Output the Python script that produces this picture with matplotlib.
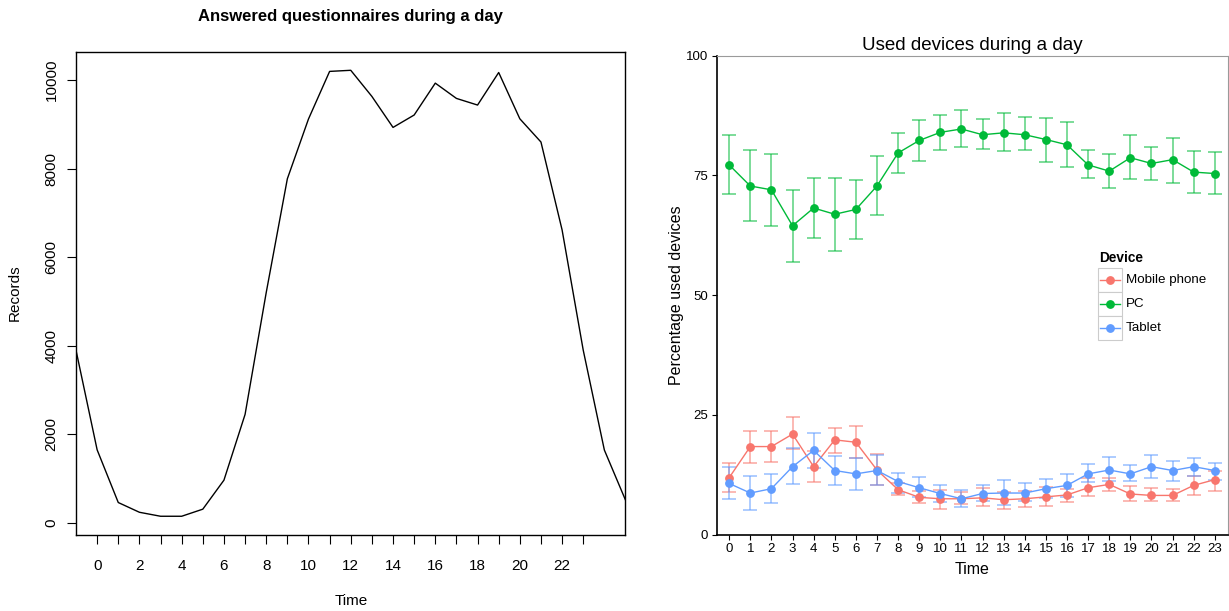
import numpy as np
import matplotlib
matplotlib.use('Agg')
import matplotlib.pyplot as plt
from matplotlib.patches import Rectangle
from matplotlib.lines import Line2D

plt.rcParams['font.family'] = ['Liberation Sans', 'DejaVu Sans']

# left chart: answered questionnaires, one value per hour (wraps around the day)
rec_hours = np.arange(-1, 26)
records = [3900, 1650, 460, 240, 150, 150, 310, 965, 2450, 5200, 7770, 9120,
           10195, 10220, 9630, 8930, 9210, 9930, 9585, 9435, 10170, 9125,
           8600, 6615, 3900, 1645, 515]

# right chart: device share per hour
hours = np.arange(0, 24)
devices = ['Mobile phone', 'PC', 'Tablet']
colors = ['#F8766D', '#00BA38', '#619CFF']

mobile = [11.9, 18.4, 18.4, 21.0, 14.2, 19.8, 19.3, 13.5, 9.4, 7.8, 7.5, 7.5,
          7.7, 7.3, 7.5, 7.9, 8.3, 9.8, 10.5, 8.5, 8.2, 8.2, 10.3, 11.5]
mobile_lo = [8.9, 14.9, 15.2, 17.8, 10.9, 17.1, 16.1, 10.3, 8.2, 6.6, 5.4, 6.5,
             5.9, 5.4, 5.7, 5.9, 6.8, 8.0, 9.2, 7.1, 7.0, 7.0, 8.3, 9.1]
mobile_hi = [14.9, 21.6, 21.6, 24.6, 17.5, 22.3, 22.6, 16.8, 10.8, 9.1, 9.4, 8.9,
             9.7, 8.9, 9.2, 10.0, 9.6, 11.9, 11.9, 10.1, 9.8, 9.6, 12.2, 13.4]

pc = [77.2, 72.8, 72.0, 64.5, 68.2, 66.9, 67.9, 72.8, 79.7, 82.3, 84.0, 84.7,
      83.5, 83.9, 83.5, 82.5, 81.4, 77.2, 75.9, 78.7, 77.5, 78.3, 75.7, 75.4]
pc_lo = [71.1, 65.4, 64.5, 57.0, 62.0, 59.2, 61.8, 66.7, 75.5, 78.1, 80.3, 80.9,
         80.6, 80.1, 80.4, 77.9, 76.8, 74.4, 72.4, 74.2, 74.0, 73.5, 71.3, 71.1]
pc_hi = [83.4, 80.4, 79.5, 71.9, 74.4, 74.4, 74.1, 79.0, 83.8, 86.5, 87.7, 88.7,
         86.7, 88.0, 87.1, 86.9, 86.2, 80.3, 79.4, 83.4, 80.9, 82.9, 80.1, 79.8]

tablet = [10.7, 8.7, 9.6, 14.2, 17.6, 13.4, 12.7, 13.4, 11.1, 9.8, 8.6, 7.5,
          8.6, 8.7, 8.7, 9.6, 10.3, 12.7, 13.5, 12.7, 14.2, 13.4, 14.2, 13.4]
tablet_lo = [7.5, 5.2, 6.6, 10.5, 14.0, 10.3, 9.4, 10.4, 8.7, 7.9, 6.8, 5.7,
             7.1, 6.1, 7.1, 7.6, 7.8, 10.9, 11.2, 11.2, 11.8, 11.2, 12.2, 11.5]
tablet_hi = [14.2, 12.2, 12.6, 18.2, 21.3, 16.5, 16.0, 16.7, 12.9, 12.0, 10.3, 9.4,
             10.3, 11.4, 10.7, 11.6, 12.6, 14.7, 16.2, 14.5, 16.6, 15.4, 16.0, 14.9]

W, H = 1229, 611


def px(x, y):
    return x / W, 1 - y / H


fig = plt.figure(figsize=(W / 100, H / 100), dpi=100)

# ---------- left: base-R style line plot ----------
ax1 = fig.add_axes([76 / W, 1 - 534.5 / H, (625.5 - 76) / W, (534.5 - 52) / H])
ax1.plot(rec_hours, records, color='black', lw=1)
ax1.set_xlim(-1, 25)
ax1.set_ylim(-262, 10633)
ax1.set_xticks(np.arange(0, 24))
ax1.set_xticklabels([str(h) if h % 2 == 0 else '' for h in range(24)])
ax1.set_yticks([0, 2000, 4000, 6000, 8000, 10000])
ax1.tick_params(axis='both', direction='out', length=6.5, width=0.8,
                labelsize=11, color='black')
ax1.tick_params(axis='x', pad=11)
ax1.tick_params(axis='y', pad=6)
for lab in ax1.get_yticklabels():
    lab.set_rotation(90)
    lab.set_va('center')
for s in ax1.spines.values():
    s.set_linewidth(1)
fig.text(*px(350, 17), 'Answered questionnaires during a day', ha='center',
         va='center', fontsize=12, fontweight='bold')
fig.text(*px(351, 601), 'Time', ha='center', va='center', fontsize=11)
fig.text(*px(15, 293), 'Records', ha='center', va='center', fontsize=11,
         rotation=90)

# ---------- right: ggplot style points with error bars ----------
ax2 = fig.add_axes([716.5 / W, 1 - 534.7 / H, (1227.5 - 716.5) / W, (534.7 - 55.7) / H])
series = [(mobile, mobile_lo, mobile_hi), (pc, pc_lo, pc_hi),
          (tablet, tablet_lo, tablet_hi)]
for (vals, lo, hi), c in zip(series, colors):
    vals = np.array(vals)
    err = [vals - np.array(lo), np.array(hi) - vals]
    ax2.errorbar(hours, vals, yerr=err, fmt='none', ecolor=c, alpha=0.65,
                 elinewidth=1.1, capsize=4.7, capthick=1.1, zorder=2)
for (vals, lo, hi), c in zip(series, colors):
    ax2.plot(hours, vals, color=c, lw=1, marker='o', ms=5.3, zorder=3)

ax2.set_xlim(-0.6, 23.6)
ax2.set_ylim(0, 100)
ax2.set_xticks(hours)
ax2.set_yticks([0, 25, 50, 75, 100])
ax2.tick_params(axis='both', direction='out', length=3.5, width=0.8,
                labelsize=9.5, pad=2.5, color='black')
for side in ['top', 'right']:
    ax2.spines[side].set_color('#9a9a9a')
    ax2.spines[side].set_linewidth(0.8)
for side in ['left', 'bottom']:
    ax2.spines[side].set_color('black')
    ax2.spines[side].set_linewidth(1.2)
fig.text(*px(972, 45), 'Used devices during a day', ha='center', va='center',
         fontsize=13.5)
fig.text(*px(972, 569), 'Time', ha='center', va='center', fontsize=11.5)
fig.text(*px(676, 295), 'Percentage used devices', ha='center', va='center',
         fontsize=11.5, rotation=90)

# legend drawn by hand so the keys get their grey boxes
fig.text(*px(1099, 258), 'Device', ha='left', va='center', fontsize=9.8,
         fontweight='bold')
for i, (name, c) in enumerate(zip(devices, colors)):
    top = 267.5 + i * 24.3
    x0, y0 = px(1098, top + 24.3)
    fig.add_artist(Rectangle((x0, y0), 24 / W, 24.3 / H, transform=fig.transFigure,
                             facecolor='white', edgecolor='#cccccc', lw=0.8))
    yc = px(0, top + 12.15)[1]
    fig.add_artist(Line2D([1100 / W, 1120 / W], [yc, yc], transform=fig.transFigure,
                          color=c, lw=1))
    fig.add_artist(Line2D([1110 / W], [yc], transform=fig.transFigure, color=c,
                          marker='o', ms=5.3))
    fig.text(1126 / W, yc, name, ha='left', va='center', fontsize=9.6)

fig.savefig('out.png', dpi=100)
